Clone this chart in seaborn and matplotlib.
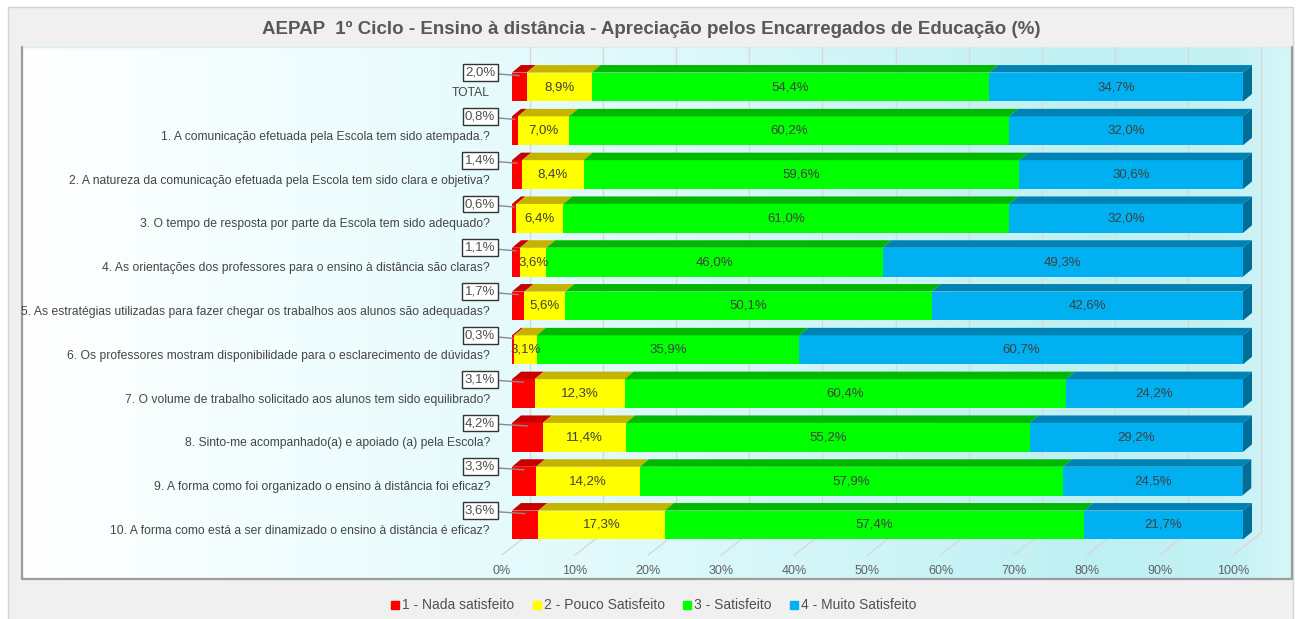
"""
AEPAP 1º Ciclo - apreciação do ensino à distância (barras empilhadas com efeito 3D)
"""

import numpy as np
import pandas as pd
import matplotlib
matplotlib.use("Agg")
import matplotlib.pyplot as plt
import seaborn as sns
from matplotlib.patches import Polygon, Rectangle
from matplotlib.lines import Line2D

# --- dados -------------------------------------------------------------
questions = [
    "TOTAL",
    "1. A comunicação efetuada pela Escola tem sido atempada.?",
    "2. A natureza da comunicação efetuada pela Escola tem sido clara e objetiva?",
    "3. O tempo de resposta por parte da Escola tem sido adequado?",
    "4. As orientações dos professores para o ensino à distância são claras?",
    "5. As estratégias utilizadas para fazer chegar os trabalhos aos alunos são adequadas?",
    "6. Os professores mostram disponibilidade para o esclarecimento de dúvidas?",
    "7. O volume de trabalho solicitado aos alunos tem sido equilibrado?",
    "8. Sinto-me acompanhado(a) e apoiado (a) pela Escola?",
    "9. A forma como foi organizado o ensino à distância foi eficaz?",
    "10. A forma como está a ser dinamizado o ensino à distância é eficaz?",
]
nada = [2.0, 0.8, 1.4, 0.6, 1.1, 1.7, 0.3, 3.1, 4.2, 3.3, 3.6]
pouco = [8.9, 7.0, 8.4, 6.4, 3.6, 5.6, 3.1, 12.3, 11.4, 14.2, 17.3]
satisfeito = [54.4, 60.2, 59.6, 61.0, 46.0, 50.1, 35.9, 60.4, 55.2, 57.9, 57.4]
muito = [34.7, 32.0, 30.6, 32.0, 49.3, 42.6, 60.7, 24.2, 29.2, 24.5, 21.7]
levels = ["1 - Nada satisfeito", "2 - Pouco Satisfeito", "3 - Satisfeito", "4 - Muito Satisfeito"]
x_ticks = list(range(0, 101, 10))
title = "AEPAP  1º Ciclo - Ensino à distância - Apreciação pelos Encarregados de Educação (%)"

front_colors = ["#ff0000", "#ffff00", "#00ff00", "#00b0f0"]
top_colors = ["#c80000", "#c4b400", "#00b800", "#0082b4"]
side_color = "#006e98"
txt_color = "#404040"

sns.set_style("white")
plt.rcParams["font.family"] = ["Liberation Sans", "DejaVu Sans"]

cols = ["nada", "pouco", "satisfeito", "muito"]
df = pd.DataFrame({"pergunta": questions, "nada": nada, "pouco": pouco,
                   "satisfeito": satisfeito, "muito": muito})
cum = df[cols].cumsum(axis=1)
cum["pergunta"] = df["pergunta"]

# --- figura e moldura ---------------------------------------------------
W, H = 1298, 619
fig = plt.figure(figsize=(W / 100, H / 100), dpi=100)
fig.patch.set_facecolor("white")

bg = fig.add_axes([0, 0, 1, 1], zorder=0)
bg.set_xlim(0, W)
bg.set_ylim(H, 0)
bg.axis("off")
bg.add_patch(Rectangle((8, 7), 1285, 630, fc="#f0f0f0", ec="#d4d4d4", lw=1))

# fundo em gradiente do painel
xs = np.linspace(0, 1, 600)
stops = [0.0, 0.22, 0.5, 0.85, 0.95, 1.0]
rgb = [(255, 255, 255), (240, 253, 254), (222, 249, 251), (190, 240, 243),
       (196, 241, 244), (214, 247, 249)]
grad = np.stack([np.interp(xs, stops, [c[j] / 255 for c in rgb]) for j in range(3)], axis=-1)
bg.imshow(grad[None, :, :], extent=(22, 1292, 579, 47), aspect="auto", zorder=1)
bg.plot([1292, 22, 22], [47, 47, 579], color="#d6eef0", lw=1, zorder=2)
bg.plot([22, 22, 1292, 1292], [47, 579, 579, 47], color="#9c9c9c", lw=1.6, zorder=2)
bg.text(651, 29, title, ha="center", va="center", fontsize=13.5,
        fontweight="bold", color="#585858")

# --- barras --------------------------------------------------------------
ax = fig.add_axes([512 / W, (H - 555) / H, 731 / W, 492 / H], zorder=2)
ax.patch.set_visible(False)
bar_h = 0.66
for col, color in reversed(list(zip(cols, front_colors))):
    sns.barplot(data=cum, x=col, y="pergunta", orient="h", color=color,
                saturation=1, width=bar_h, errorbar=None, linewidth=0, ax=ax)
ybot, ytop = 10.685, -0.548
ax.set_xlim(0, 100)
ax.set_ylim(ybot, ytop)
ax.set_axis_off()


def px(x, y, dx=0, dy=0):
    # ponto de dados deslocado (dx, dy) pixels no ecrã
    X, Y = ax.transData.transform((x, y))
    return ax.transData.inverted().transform((X + dx, Y + dy))


# parede de fundo e chão
for t in x_ticks:
    ax.add_line(Line2D(*zip(px(t, ybot, 18, 22), px(t, ybot, 18, 508)),
                       color="#d8d8d8", lw=1, clip_on=False, zorder=0.5))
    ax.add_line(Line2D(*zip(px(t, ybot, -10, 0), px(t, ybot, 18, 22)),
                       color="#d8d8d8", lw=1, clip_on=False, zorder=0.5))
    ax.annotate(f"{t}%", xy=(t, ybot), xytext=(-10, -16), textcoords="offset pixels",
                ha="center", va="center", fontsize=9, color="#606060")

# faces 3D (topo e lado)
ddx, ddy = 9, 7.5
for i in range(len(questions)):
    left = 0.0
    top = i - bar_h / 2
    bottom = i + bar_h / 2
    for k, col in enumerate(cols):
        v = df[col][i]
        right = left + v
        face = [px(left, top), px(right, top), px(right, top, ddx, ddy), px(left, top, ddx, ddy)]
        ax.add_patch(Polygon(face, closed=True, fc=top_colors[k], ec="none",
                             clip_on=False, zorder=3))
        lab = f"{v:.1f}".replace(".", ",") + "%"
        if k == 0:
            x_red = 512 + (left + v / 2) * 7.31
            ax.annotate(lab, xy=(left + v / 2, top + 0.07),
                        xytext=(480 - x_red, 3), textcoords="offset pixels",
                        ha="center", va="center", fontsize=9.5, color="#505050",
                        bbox=dict(boxstyle="square,pad=0.18", fc="white", ec="#333333", lw=1),
                        arrowprops=dict(arrowstyle="-", color="#8a8a8a", lw=1,
                                        shrinkA=0, shrinkB=0), zorder=5)
        else:
            ax.text(left + v / 2, i, lab, ha="center", va="center",
                    fontsize=9.5, color=txt_color, zorder=4)
        left = right
    side = [px(left, top), px(left, bottom), px(left, bottom, ddx, ddy), px(left, top, ddx, ddy)]
    ax.add_patch(Polygon(side, closed=True, fc=side_color, ec="none",
                         clip_on=False, zorder=3))
    ax.annotate(questions[i], xy=(0, i), xytext=(-22, -6), textcoords="offset pixels",
                ha="right", va="center", fontsize=8.7, color="#454545")

# --- legenda ---------------------------------------------------------------
leg_x = [395, 537, 687, 794]
for xk, c, lab in zip(leg_x, front_colors, levels):
    bg.plot([xk], [605], marker="s", ls="none", color=c, markersize=6)
    bg.text(xk + 7, 605, lab, ha="left", va="center", fontsize=10, color="#505050")

fig.savefig("out.png", dpi=100)
